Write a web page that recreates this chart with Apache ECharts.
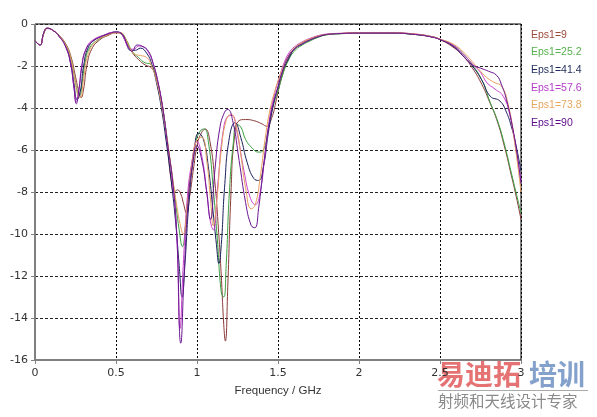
<!DOCTYPE html>
<html>
<head>
<meta charset="utf-8">
<script src="https://cdn.jsdelivr.net/npm/echarts@6/dist/echarts.min.js"></script>
<style>html,body{margin:0;padding:0;background:#fff;}#c{width:597px;height:417px;}</style>
</head>
<body>
<div id="c"></div>
<script>
// ---- data (GHz, dB) ----
var xTicks = ['0','0.5','1','1.5','2','2.5','3'];
var names = ['Eps1=9','Eps1=25.2','Eps1=41.4','Eps1=57.6','Eps1=73.8','Eps1=90'];

var f9 = [0,0.03,0.055,0.075,0.11,0.15,0.19,0.22,0.25,0.27,0.285,0.3,0.32,0.35,0.4,0.45,0.5,0.53,0.56,0.6,0.64,0.68,0.72,0.75,0.78,0.8,0.82,0.84,0.86,0.88,0.9,0.915,0.935,0.955,0.98,1.0,1.02,1.05,1.08,1.11,1.13,1.15,1.165,1.175,1.19,1.21,1.23,1.26,1.3,1.35,1.4,1.43,1.46,1.49,1.52,1.55,1.58,1.62,1.66,1.7,1.75,1.8,1.9,2.0,2.2,2.35,2.45,2.5,2.58,2.64,2.7,2.76,2.8,2.85,2.9,2.94,2.97,3.0];
var v9 = [-0.8,-1.0,-0.45,-0.22,-0.3,-0.55,-0.95,-1.5,-2.5,-3.2,-3.5,-3.1,-2.0,-1.2,-0.75,-0.55,-0.42,-0.45,-0.75,-1.35,-1.7,-1.95,-2.1,-2.6,-3.6,-4.6,-6.0,-7.4,-8.0,-7.9,-8.1,-8.5,-9.0,-8.2,-6.8,-5.8,-5.3,-5.0,-5.6,-7.5,-9.5,-12,-14.3,-15.1,-12.5,-8,-5.5,-4.6,-4.55,-4.6,-4.75,-4.87,-4.5,-3.6,-2.6,-1.9,-1.4,-1.05,-0.85,-0.7,-0.58,-0.5,-0.45,-0.43,-0.43,-0.5,-0.62,-0.74,-1.1,-1.5,-2.1,-2.9,-3.6,-4.55,-5.9,-7.2,-8.2,-9.3];

var f25 = [0,0.03,0.055,0.075,0.11,0.15,0.19,0.22,0.245,0.265,0.275,0.29,0.31,0.34,0.4,0.45,0.5,0.53,0.56,0.6,0.64,0.68,0.71,0.74,0.77,0.8,0.83,0.86,0.89,0.91,0.93,0.96,0.99,1.02,1.045,1.07,1.1,1.125,1.15,1.165,1.18,1.2,1.225,1.245,1.27,1.3,1.34,1.38,1.41,1.44,1.47,1.5,1.53,1.56,1.6,1.65,1.7,1.75,1.8,1.9,2.0,2.2,2.35,2.45,2.5,2.58,2.64,2.7,2.76,2.81,2.85,2.89,2.95,3.0];
var v25 = [-0.8,-1.0,-0.42,-0.2,-0.3,-0.58,-1.0,-1.6,-2.6,-3.3,-3.4,-2.9,-1.8,-1.1,-0.7,-0.5,-0.4,-0.42,-0.7,-1.3,-1.6,-1.85,-1.9,-2.3,-3.3,-4.6,-6.3,-8.0,-9.8,-10.6,-9.5,-7.2,-5.7,-5.1,-5.0,-5.6,-7.8,-10.2,-12.8,-13.0,-11.5,-8.0,-5.6,-4.8,-4.9,-5.5,-5.9,-6.1,-6.0,-5.0,-3.9,-3.2,-2.4,-1.8,-1.3,-1.0,-0.8,-0.63,-0.52,-0.46,-0.44,-0.44,-0.5,-0.6,-0.72,-1.0,-1.4,-1.95,-2.7,-3.74,-4.5,-5.5,-7.4,-9.0];

var f41 = [0,0.03,0.055,0.075,0.11,0.15,0.19,0.22,0.24,0.26,0.28,0.3,0.33,0.38,0.44,0.5,0.53,0.56,0.59,0.62,0.65,0.69,0.72,0.75,0.78,0.81,0.84,0.87,0.89,0.908,0.925,0.95,0.98,1.01,1.04,1.07,1.1,1.12,1.135,1.15,1.17,1.2,1.235,1.27,1.31,1.35,1.38,1.41,1.44,1.47,1.5,1.53,1.57,1.6,1.65,1.7,1.75,1.8,1.9,2.0,2.2,2.35,2.45,2.5,2.58,2.64,2.7,2.76,2.81,2.87,2.91,2.94,2.97,3.0];
var v41 = [-0.8,-1.0,-0.4,-0.2,-0.3,-0.6,-1.05,-1.8,-2.8,-3.6,-3.2,-2.0,-1.1,-0.7,-0.5,-0.38,-0.45,-0.85,-1.25,-1.25,-1.15,-1.4,-1.9,-2.8,-4.0,-5.6,-7.4,-9.6,-11.5,-13.0,-11.5,-8.5,-6.3,-5.2,-5.5,-6.8,-9.0,-10.5,-11.4,-10.5,-7.8,-5.4,-4.7,-5.4,-6.6,-7.35,-7.45,-6.8,-5.2,-3.9,-3.0,-2.2,-1.6,-1.2,-0.95,-0.75,-0.6,-0.5,-0.45,-0.43,-0.43,-0.5,-0.62,-0.74,-1.05,-1.5,-2.0,-2.7,-3.44,-3.67,-4.2,-4.87,-5.8,-7.0];

var f57 = [0,0.03,0.055,0.075,0.11,0.15,0.19,0.22,0.24,0.255,0.27,0.29,0.32,0.36,0.42,0.48,0.52,0.55,0.58,0.61,0.64,0.67,0.7,0.73,0.76,0.79,0.82,0.85,0.875,0.895,0.915,0.94,0.97,1.0,1.03,1.06,1.08,1.1,1.13,1.16,1.19,1.215,1.25,1.29,1.33,1.36,1.39,1.42,1.45,1.48,1.51,1.54,1.57,1.6,1.65,1.7,1.75,1.8,1.9,2.0,2.2,2.35,2.45,2.5,2.58,2.64,2.7,2.75,2.79,2.84,2.89,2.93,2.97,3.0];
var v57 = [-0.8,-1.0,-0.4,-0.2,-0.3,-0.6,-1.1,-1.9,-3.0,-3.7,-3.2,-1.9,-1.1,-0.75,-0.55,-0.4,-0.4,-0.7,-1.15,-1.2,-1.05,-1.1,-1.35,-1.9,-2.8,-4.1,-5.8,-7.6,-10,-14.5,-11.5,-8.3,-6.5,-5.6,-6.3,-8.0,-9.3,-9.8,-7.5,-5.2,-4.4,-4.35,-5.3,-7.0,-8.3,-8.6,-8.0,-6.2,-4.4,-3.3,-2.5,-1.8,-1.35,-1.1,-0.85,-0.68,-0.55,-0.48,-0.44,-0.42,-0.42,-0.48,-0.6,-0.72,-1.0,-1.4,-1.9,-2.3,-2.8,-3.1,-3.44,-4.3,-6.0,-7.5];

var f73 = [0,0.03,0.055,0.075,0.11,0.15,0.19,0.22,0.245,0.265,0.28,0.3,0.33,0.38,0.44,0.5,0.53,0.56,0.59,0.62,0.65,0.69,0.72,0.75,0.78,0.81,0.84,0.87,0.895,0.915,0.94,0.97,1.0,1.03,1.06,1.085,1.1,1.12,1.15,1.18,1.21,1.24,1.27,1.3,1.335,1.36,1.39,1.42,1.45,1.48,1.51,1.54,1.57,1.6,1.65,1.7,1.75,1.8,1.9,2.0,2.2,2.35,2.45,2.5,2.58,2.64,2.7,2.75,2.79,2.84,2.88,2.92,2.96,3.0];
var v73 = [-0.8,-1.0,-0.42,-0.2,-0.3,-0.58,-1.0,-1.6,-2.6,-3.4,-3.5,-2.6,-1.4,-0.8,-0.55,-0.42,-0.42,-0.72,-1.2,-1.45,-1.5,-1.6,-2.0,-2.7,-3.8,-5.2,-6.8,-8.4,-9.5,-10.0,-8.6,-6.6,-5.5,-5.4,-6.5,-8.5,-9.6,-8.6,-6.0,-4.6,-4.3,-4.8,-6.2,-7.8,-8.8,-8.6,-7.3,-5.5,-4.1,-3.2,-2.5,-1.9,-1.45,-1.15,-0.88,-0.7,-0.57,-0.49,-0.44,-0.42,-0.42,-0.48,-0.6,-0.72,-0.95,-1.3,-1.8,-2.25,-2.56,-2.8,-2.96,-3.8,-5.6,-8.0];

var f90 = [0,0.03,0.055,0.075,0.11,0.15,0.19,0.22,0.24,0.255,0.27,0.29,0.31,0.35,0.41,0.46,0.5,0.54,0.57,0.6,0.63,0.66,0.7,0.73,0.76,0.79,0.82,0.85,0.875,0.9,0.92,0.945,0.97,1.0,1.03,1.06,1.083,1.11,1.14,1.17,1.19,1.22,1.26,1.3,1.335,1.357,1.38,1.41,1.44,1.47,1.5,1.53,1.56,1.6,1.65,1.7,1.75,1.8,1.9,2.0,2.2,2.35,2.45,2.5,2.58,2.64,2.7,2.75,2.8,2.85,2.88,2.91,2.95,2.98,3.0];
var v90 = [-0.8,-1.0,-0.4,-0.2,-0.3,-0.6,-1.1,-1.9,-3.0,-3.8,-3.2,-2.0,-1.3,-0.85,-0.6,-0.45,-0.38,-0.5,-1.0,-1.3,-1.0,-1.05,-1.3,-1.9,-2.8,-4.1,-5.8,-7.5,-10.0,-15.2,-12,-8.5,-6.8,-5.8,-6.5,-8.0,-9.3,-7.0,-5.0,-4.2,-4.07,-4.6,-6.5,-8.5,-9.6,-9.7,-8.8,-6.8,-5.0,-3.8,-3.0,-2.2,-1.6,-1.2,-0.95,-0.75,-0.6,-0.5,-0.45,-0.43,-0.43,-0.5,-0.62,-0.74,-1.05,-1.5,-1.95,-2.1,-2.25,-2.45,-2.9,-3.6,-5.0,-6.4,-7.6];

var lineColors = ['#8b3a3a','#3aa040','#1a1f5c','#c840d0','#e8a060','#6a1590'];
var legendColors = ['#9c4a3c','#56b04e','#1e2a5a','#b43cc8','#e8a860','#5c0c8c'];

function pairs(f, v){ var out=[]; for (var i=0;i<f.length;i++) out.push([f[i], v[i]]); return out; }
var freqs = [f9,f25,f41,f57,f73,f90];
var vals = [v9,v25,v41,v57,v73,v90];

var series = names.map(function(n,i){
  return {
    name: n, type: 'line', data: pairs(freqs[i], vals[i]),
    showSymbol: false, symbol: 'none', smooth: 0.5,
    lineStyle: {color: lineColors[i], width: 1}, itemStyle: {color: lineColors[i]},
    emphasis: {disabled: true}, silent: true, animation: false
  };
});

var chart = echarts.init(document.getElementById('c'), null, {renderer: 'canvas'});
chart.setOption({
  animation: false,
  backgroundColor: '#fff',
  textStyle: {fontFamily: 'DejaVu Sans'},
  grid: {left: 35, right: 76, top: 24, bottom: 57, show: true, borderColor: '#000', borderWidth: 1},
  legend: {
    orient: 'vertical', left: 521, top: 23, icon: 'none', itemWidth: 0, itemHeight: 14, itemGap: 3.6,
    selectedMode: false,
    textStyle: {fontSize: 10.5, fontFamily: 'Liberation Sans', lineHeight: 14},
    data: names.map(function(n,i){ return {name: n, textStyle: {color: legendColors[i]}}; })
  },
  xAxis: {
    type: 'value', min: 0, max: 3, interval: 0.5,
    name: 'Frequency / GHz', nameLocation: 'middle', nameGap: 25,
    nameTextStyle: {color: '#333', fontSize: 11.5, fontFamily: 'Liberation Sans'},
    axisLine: {show: true, onZero: false, lineStyle: {color: '#808080'}},
    axisTick: {show: true, length: 4, lineStyle: {color: '#808080'}},
    axisLabel: {color: '#333', fontSize: 11, margin: 8, formatter: function(v){ var i = Math.round(v/0.5); return xTicks[i] !== undefined ? xTicks[i] : ''; }},
    splitLine: {show: true, lineStyle: {color: '#000', type: [2,2], width: 1}}
  },
  yAxis: {
    type: 'value', min: -16, max: 0, interval: 2,
    axisLine: {show: true, onZero: false, lineStyle: {color: '#808080'}},
    axisTick: {show: true, length: 4, lineStyle: {color: '#808080'}},
    axisLabel: {color: '#333', fontSize: 11, margin: 7},
    splitLine: {show: true, lineStyle: {color: '#222', type: [3,2], width: 1}}
  },
  graphic: [
    {type: 'text', left: 437, top: 360, silent: true, style: {text: '易迪拓', font: 'bold 28px "Noto Sans CJK SC"', fill: 'rgba(225,90,90,0.85)'}},
    {type: 'text', left: 529, top: 360, silent: true, style: {text: '培训', font: 'bold 28px "Noto Sans CJK SC"', fill: 'rgba(110,145,195,0.85)'}},
    {type: 'rect', silent: true, shape: {x: 438, y: 390, width: 150, height: 1}, style: {fill: '#aaa'}},
    {type: 'text', left: 438, top: 393, silent: true, style: {text: '射频和天线设计专家', font: '15.5px "Noto Sans CJK SC"', fill: '#8a8a8a'}}
  ],
  series: series
});
</script>
</body>
</html>
